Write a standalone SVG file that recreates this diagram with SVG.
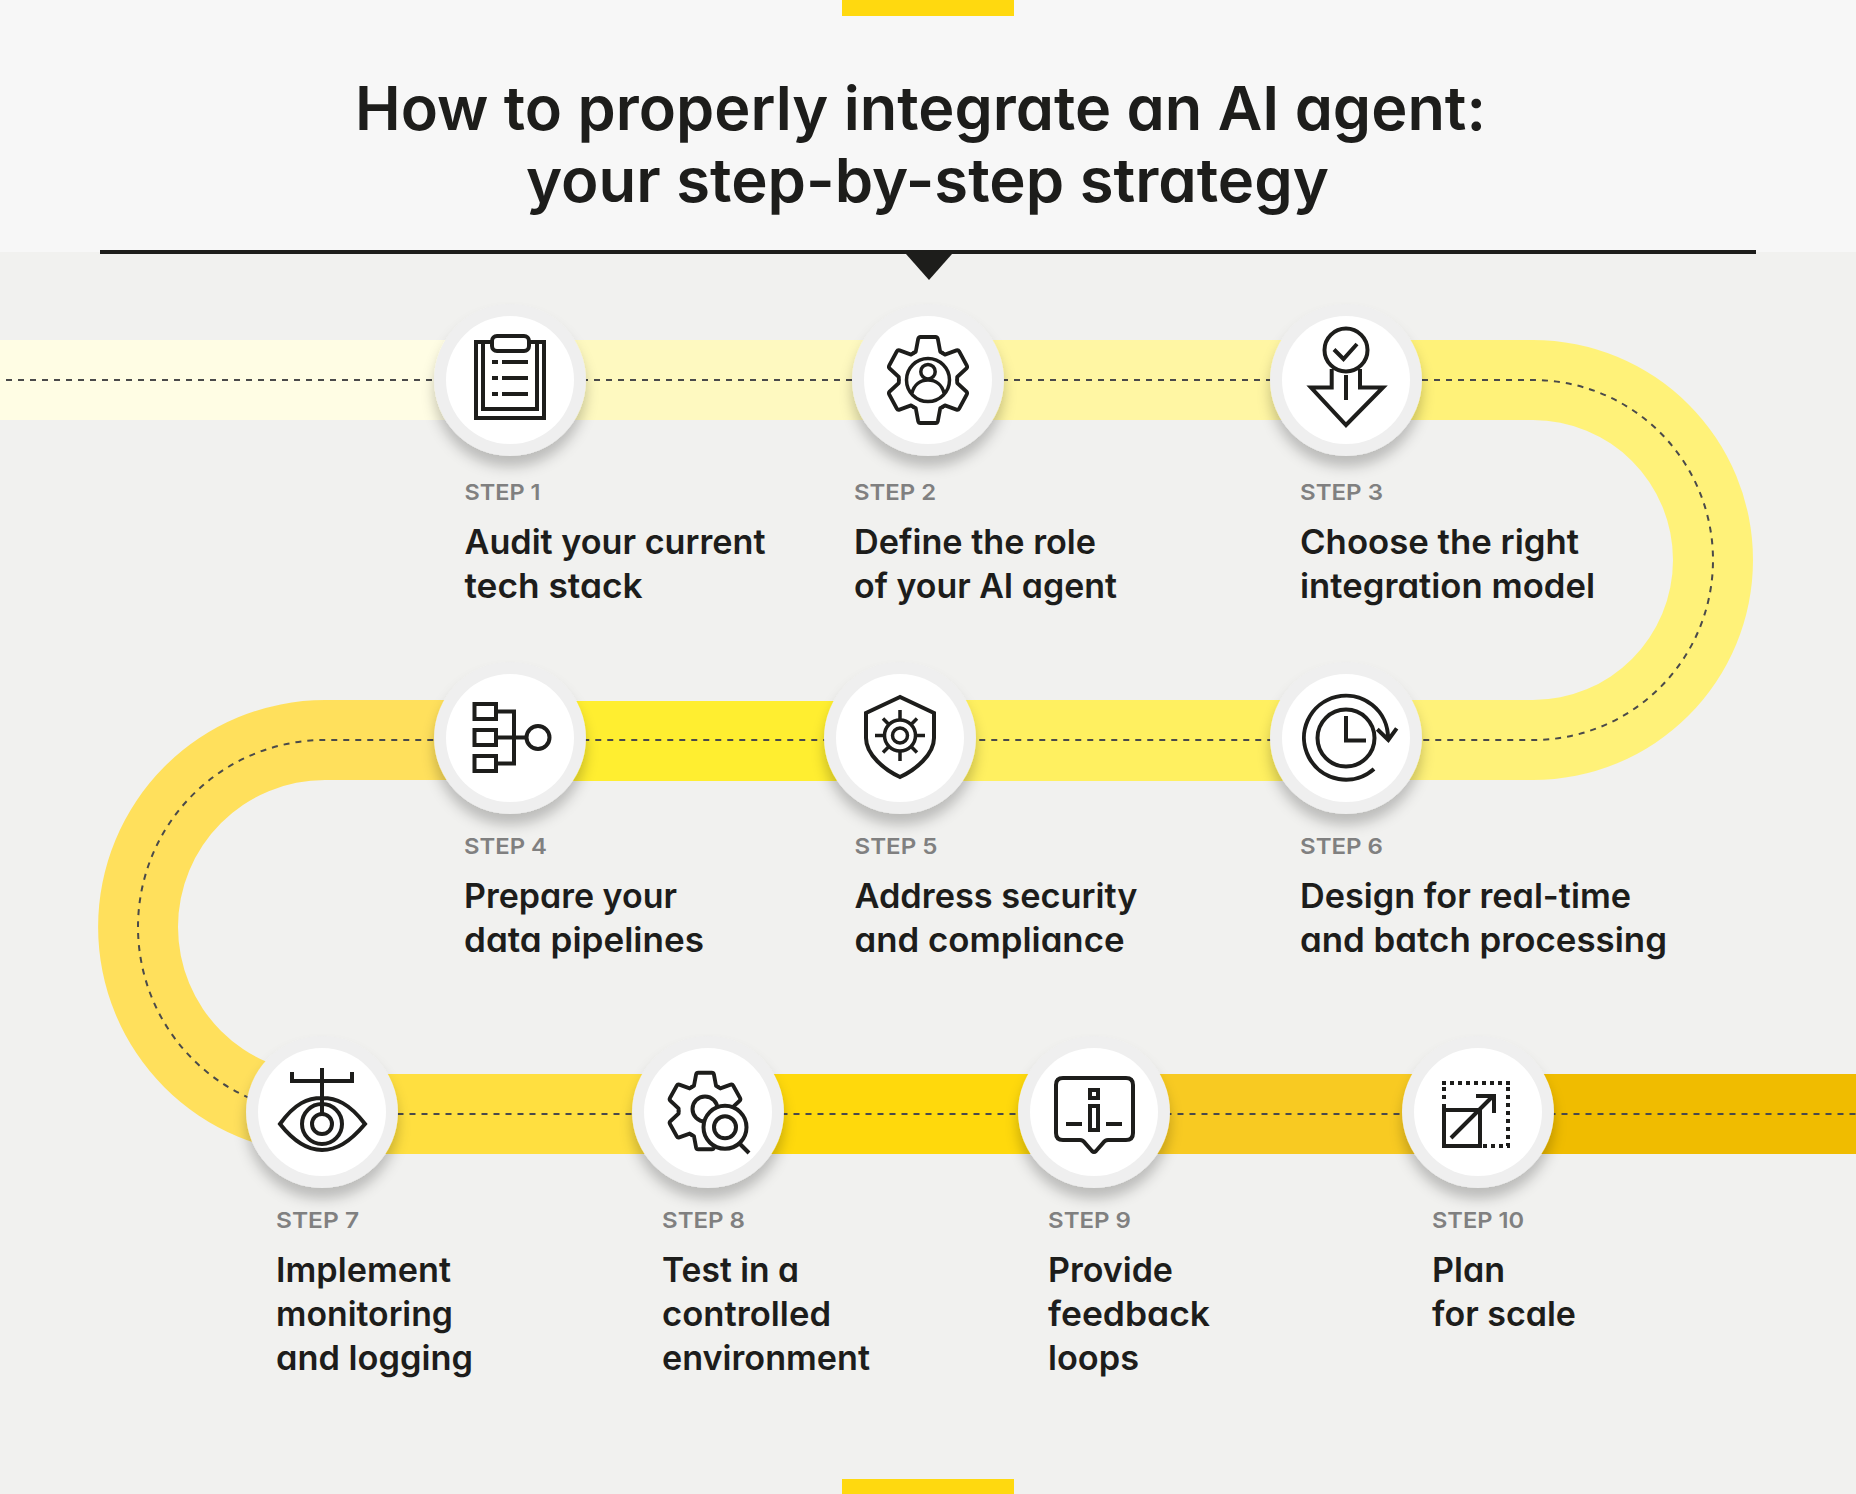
<svg xmlns="http://www.w3.org/2000/svg" xmlns:xlink="http://www.w3.org/1999/xlink" width="1856" height="1494" viewBox="0 0 1856 1494">
<style>
text{font-family:"Inter","Liberation Sans",sans-serif;font-feature-settings:"cv11";fill:#1d1d1b}
.title{font-size:61px;font-weight:600}
.step{font-size:22px;font-weight:600;fill:#808080}
.body{font-size:34px;font-weight:600}
.ring{fill:#efefef;filter:url(#sh)}
.disc{fill:#fff}
.ic{fill:none;stroke:#1d1d1b;stroke-width:4}
.ic .f{fill:#fff}
.ic .t{stroke-width:3.500}
.dash{fill:none;stroke:#4a4a4a;stroke-width:2;stroke-dasharray:6 6}
</style>
<defs>
<filter id="sh" x="-30%" y="-30%" width="160%" height="170%"><feDropShadow dx="0" dy="11" stdDeviation="6.500" flood-color="#000" flood-opacity="0.22"/></filter>
<path id="tooth" d="M-15.500 -26.900L-13 -28.300L-10.500 -41Q-10 -43 -8 -43H8Q10 -43 10.500 -41L13 -28.300L15.500 -26.900" stroke-linecap="round" stroke-linejoin="round"/>
<g id="gear"><use xlink:href="#tooth" href="#tooth"/><use xlink:href="#tooth" href="#tooth" transform="rotate(60)"/><use xlink:href="#tooth" href="#tooth" transform="rotate(120)"/><use xlink:href="#tooth" href="#tooth" transform="rotate(180)"/><use xlink:href="#tooth" href="#tooth" transform="rotate(240)"/><use xlink:href="#tooth" href="#tooth" transform="rotate(300)"/></g>
</defs>

<rect width="1856" height="1494" fill="#f1f1ef"/>
<g id="header">
<rect width="1856" height="252" fill="#f7f7f7"/>
<rect x="842" width="172" height="16" fill="#ffd90f"/>
<rect x="842" y="1479" width="172" height="15" fill="#ffd90f"/>
<text class="title" x="355" y="130" textLength="1131" lengthAdjust="spacingAndGlyphs">How to properly integrate an AI agent:</text>
<text class="title" x="526" y="202" textLength="803" lengthAdjust="spacingAndGlyphs">your step-by-step strategy</text>
<rect x="100" y="250" width="1656" height="4" fill="#1d1d1b"/>
<path d="M906 254H952L929 280Z" fill="#1d1d1b"/>
</g>

<g id="connectors">
<rect x="0" y="340" width="510" height="80" fill="#fffde4"/>
<rect x="510" y="340" width="418" height="80" fill="#fef9c0"/>
<rect x="928" y="340" width="418" height="80" fill="#fff6a3"/>
<path d="M1346 340H1533A220 220 0 0 1 1533 780H1346V700H1533A140 140 0 0 0 1533 420H1346Z" fill="#fff279"/>
<rect x="900" y="700" width="446" height="81" fill="#fff060"/>
<rect x="510" y="701" width="390" height="80" fill="#ffee30"/>
<path d="M510 700H325A227 227 0 0 0 325 1154V1074A147 147 0 0 1 325 780H510Z" fill="#ffe05c"/>
<rect x="322" y="1074" width="386" height="80" fill="#ffdf40"/>
<rect x="708" y="1074" width="386" height="80" fill="#ffd90c"/>
<rect x="1094" y="1074" width="384" height="80" fill="#f8ca22"/>
<rect x="1478" y="1074" width="378" height="80" fill="#f0bc00"/>
<path class="dash" d="M6 380H1533A180 180 0 0 1 1533 740H325A187 187 0 0 0 325 1114H1856"/>
</g>

<g id="step-1">
<circle class="ring" cx="510" cy="380" r="76"/><circle class="disc" cx="510" cy="380" r="64"/>
<g class="ic"><rect x="476" y="342" width="68" height="76"/><path d="M483 342V409H537V342"/><rect class="f" x="492" y="336" width="37" height="15" rx="5"/><path d="M492 362H498M502 362H528M492 378H498M502 378H528M492 394H498M502 394H528"/></g>
<text class="step" x="464.500" y="500" textLength="76" lengthAdjust="spacingAndGlyphs">STEP 1</text>
<text class="body" x="464.500" y="554" textLength="301" lengthAdjust="spacingAndGlyphs">Audit your current</text>
<text class="body" x="464.500" y="598" textLength="178" lengthAdjust="spacingAndGlyphs">tech stack</text>
</g>
<g id="step-2">
<circle class="ring" cx="928" cy="380" r="76"/><circle class="disc" cx="928" cy="380" r="64"/>
<g class="ic"><use xlink:href="#gear" href="#gear" transform="translate(928 380) scale(.94 1)"/><circle class="t" cx="928" cy="380" r="21.500"/><circle class="t" cx="928" cy="371.700" r="7.200"/><path class="t" d="M912 393C914 385 920 380 928 380C936 380 942 385 944 393"/></g>
<text class="step" x="854" y="500" textLength="82" lengthAdjust="spacingAndGlyphs">STEP 2</text>
<text class="body" x="854" y="554" textLength="242" lengthAdjust="spacingAndGlyphs">Define the role</text>
<text class="body" x="854" y="598" textLength="263" lengthAdjust="spacingAndGlyphs">of your AI agent</text>
</g>
<g id="step-3">
<circle class="ring" cx="1346" cy="380" r="76"/><circle class="disc" cx="1346" cy="380" r="64"/>
<g class="ic"><circle cx="1346" cy="350" r="21.500"/><path d="M1334 349.500L1343.500 359L1357 344M1331.700 369V387.500H1311L1346 425L1383 387.500H1360V369M1346 375V400"/></g>
<text class="step" x="1300" y="500" textLength="83" lengthAdjust="spacingAndGlyphs">STEP 3</text>
<text class="body" x="1300" y="554" textLength="279" lengthAdjust="spacingAndGlyphs">Choose the right</text>
<text class="body" x="1300" y="598" textLength="295" lengthAdjust="spacingAndGlyphs">integration model</text>
</g>
<g id="step-4">
<circle class="ring" cx="510" cy="738" r="76"/><circle class="disc" cx="510" cy="738" r="64"/>
<g class="ic"><rect x="474.500" y="704" width="21.500" height="15"/><rect x="474.500" y="730" width="21.500" height="15"/><rect x="474.500" y="756" width="21.500" height="15"/><path d="M496 711.500H514V763.500H496M496 737.500H526.500"/><circle cx="538" cy="737.500" r="11.500"/></g>
<text class="step" x="464" y="854" textLength="83" lengthAdjust="spacingAndGlyphs">STEP 4</text>
<text class="body" x="464" y="908" textLength="213" lengthAdjust="spacingAndGlyphs">Prepare your</text>
<text class="body" x="464" y="952" textLength="240" lengthAdjust="spacingAndGlyphs">data pipelines</text>
</g>
<g id="step-5">
<circle class="ring" cx="900" cy="738" r="76"/><circle class="disc" cx="900" cy="738" r="64"/>
<g class="ic"><path d="M900 697L866 713V738C866 755 885 770 900 777C915 770 934 755 934 738V713Z"/><circle class="t" cx="900" cy="735.500" r="7.500"/><circle class="t" cx="900" cy="735.500" r="15.500"/><path class="t" d="M900 710V719M900 752V761M875 735.500H884M916 735.500H925M883 718.500L888.700 724.200M911.300 746.800L917 752.500M883 752.500L888.700 746.800M911.300 724.200L917 718.500"/></g>
<text class="step" x="854.500" y="854" textLength="83" lengthAdjust="spacingAndGlyphs">STEP 5</text>
<text class="body" x="854.500" y="908" textLength="283" lengthAdjust="spacingAndGlyphs">Address security</text>
<text class="body" x="854.500" y="952" textLength="270" lengthAdjust="spacingAndGlyphs">and compliance</text>
</g>
<g id="step-6">
<circle class="ring" cx="1346" cy="738" r="76"/><circle class="disc" cx="1346" cy="738" r="64"/>
<g class="ic"><circle cx="1346" cy="738" r="28.500"/><path d="M1346 716V740.500H1366M1374 769A42 42 0 1 1 1388 738M1377.300 729.300L1388.300 740L1396.700 728.300"/></g>
<text class="step" x="1300" y="854" textLength="83" lengthAdjust="spacingAndGlyphs">STEP 6</text>
<text class="body" x="1300" y="908" textLength="331" lengthAdjust="spacingAndGlyphs">Design for real-time</text>
<text class="body" x="1300" y="952" textLength="367" lengthAdjust="spacingAndGlyphs">and batch processing</text>
</g>
<g id="step-7">
<circle class="ring" cx="322" cy="1112" r="76"/><circle class="disc" cx="322" cy="1112" r="64"/>
<g class="ic"><path d="M292 1072V1081H352V1072M322 1068V1113M280 1124C295 1103 308 1098 322 1098C336 1098 349 1103 365 1124C349 1143 336 1150 322 1150C308 1150 295 1143 280 1124Z"/><circle cx="322" cy="1124" r="20"/><circle cx="322" cy="1124" r="10"/></g>
<text class="step" x="276" y="1228" textLength="83" lengthAdjust="spacingAndGlyphs">STEP 7</text>
<text class="body" x="276" y="1282" textLength="175" lengthAdjust="spacingAndGlyphs">Implement</text>
<text class="body" x="276" y="1326" textLength="177" lengthAdjust="spacingAndGlyphs">monitoring</text>
<text class="body" x="276" y="1370" textLength="197" lengthAdjust="spacingAndGlyphs">and logging</text>
</g>
<g id="step-8">
<circle class="ring" cx="708" cy="1112" r="76"/><circle class="disc" cx="708" cy="1112" r="64"/>
<g class="ic"><use xlink:href="#gear" href="#gear" transform="translate(705 1111) scale(.85 .89)" style="stroke-width:4.500"/><circle cx="705" cy="1109" r="12.500"/><circle class="f" cx="725" cy="1127.300" r="21.500"/><circle cx="725" cy="1127.300" r="11"/><path d="M740 1144L749 1153"/></g>
<text class="step" x="662" y="1228" textLength="83" lengthAdjust="spacingAndGlyphs">STEP 8</text>
<text class="body" x="662" y="1282" textLength="137" lengthAdjust="spacingAndGlyphs">Test in a</text>
<text class="body" x="662" y="1326" textLength="169" lengthAdjust="spacingAndGlyphs">controlled</text>
<text class="body" x="662" y="1370" textLength="208" lengthAdjust="spacingAndGlyphs">environment</text>
</g>
<g id="step-9">
<circle class="ring" cx="1094" cy="1112" r="76"/><circle class="disc" cx="1094" cy="1112" r="64"/>
<g class="ic"><path d="M1063 1078H1126Q1133 1078 1133 1085V1133Q1133 1140 1126 1140H1108Q1105 1140 1103 1143L1096 1151Q1094 1153 1092 1151L1085 1143Q1083 1140 1080 1140H1063Q1056 1140 1056 1133V1085Q1056 1078 1063 1078Z"/><rect x="1090" y="1090" width="8" height="8"/><rect x="1090" y="1106" width="8" height="24"/><path d="M1066 1124H1082M1106 1124H1122"/></g>
<text class="step" x="1048" y="1228" textLength="83" lengthAdjust="spacingAndGlyphs">STEP 9</text>
<text class="body" x="1048" y="1282" textLength="125" lengthAdjust="spacingAndGlyphs">Provide</text>
<text class="body" x="1048" y="1326" textLength="162" lengthAdjust="spacingAndGlyphs">feedback</text>
<text class="body" x="1048" y="1370" textLength="91" lengthAdjust="spacingAndGlyphs">loops</text>
</g>
<g id="step-10">
<circle class="ring" cx="1478" cy="1112" r="76"/><circle class="disc" cx="1478" cy="1112" r="64"/>
<g class="ic"><path stroke-dasharray="4 4" d="M1442 1083H1510M1508 1087V1146H1482M1444 1087V1101"/><path d="M1444 1104V1146H1480V1110H1444M1451 1138L1493 1096M1476 1096H1494V1113"/></g>
<text class="step" x="1432" y="1228" textLength="92" lengthAdjust="spacingAndGlyphs">STEP 10</text>
<text class="body" x="1432" y="1282" textLength="73" lengthAdjust="spacingAndGlyphs">Plan</text>
<text class="body" x="1432" y="1326" textLength="144" lengthAdjust="spacingAndGlyphs">for scale</text>
</g>
</svg>
